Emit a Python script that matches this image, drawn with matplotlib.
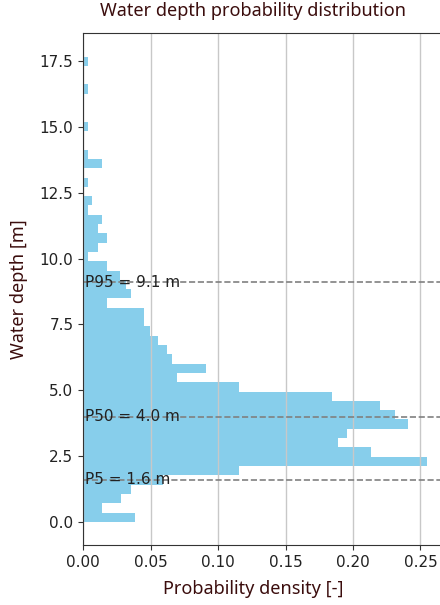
import numpy as np
import matplotlib
matplotlib.use("Agg")
import matplotlib.pyplot as plt

# histogram of water depth, 50 bins between the min and max depth
depth_min = 0.0
depth_max = 17.67
n_bins = 50
density = [
    0.0383, 0.0141, 0.0284, 0.0351, 0.0593, 0.1153, 0.2550, 0.2130, 0.1890, 0.1956,
    0.2407, 0.2309, 0.2198, 0.1847, 0.1153, 0.0699, 0.0909, 0.0659, 0.0625, 0.0558,
    0.0492, 0.0450, 0.0450, 0.0173, 0.0351, 0.0316, 0.0272, 0.0173, 0.0034, 0.0107,
    0.0173, 0.0107, 0.0136, 0.0034, 0.0068, 0.0000, 0.0034, 0.0000, 0.0136, 0.0034,
    0.0000, 0.0000, 0.0034, 0.0000, 0.0000, 0.0000, 0.0034, 0.0000, 0.0000, 0.0034,
]

pct_names = ["P5", "P50", "P95"]
pct_values = [1.6, 4.0, 9.1]

label_font = "Noto Sans"
label_color = "#3b0d0d"

edges = np.linspace(depth_min, depth_max, n_bins + 1)
bin_h = edges[1] - edges[0]

fig = plt.figure(figsize=(4.4, 6.05), dpi=100)
ax = fig.add_axes([0.189, 0.099, 0.821, 0.846])

ax.barh(edges[:-1], density, height=bin_h, align="edge", color="skyblue")

for name, val in zip(pct_names, pct_values):
    ax.axhline(val, color="gray", linestyle="--", linewidth=1.2)
    ax.text(0.001, val, f"{name} = {val:.1f} m", va="center", ha="left",
            fontsize=11, color="#222222")

ax.grid(axis="x", color="#c8c8c8", linewidth=1)
ax.tick_params(labelsize=11, labelcolor="#222222", color="#333333")
for side in ax.spines.values():
    side.set_color("#333333")

ax.set_title("Water depth probability distribution", fontsize=13, family=label_font,
             color=label_color, x=0.47, pad=12.5)
ax.set_xlabel("Probability density [-]", fontsize=13, family=label_font,
              color=label_color, x=0.47, labelpad=7.5)
ax.set_ylabel("Water depth [m]", fontsize=13, family=label_font, color=label_color,
              labelpad=8.5)

fig.savefig("out.png", dpi=100)
